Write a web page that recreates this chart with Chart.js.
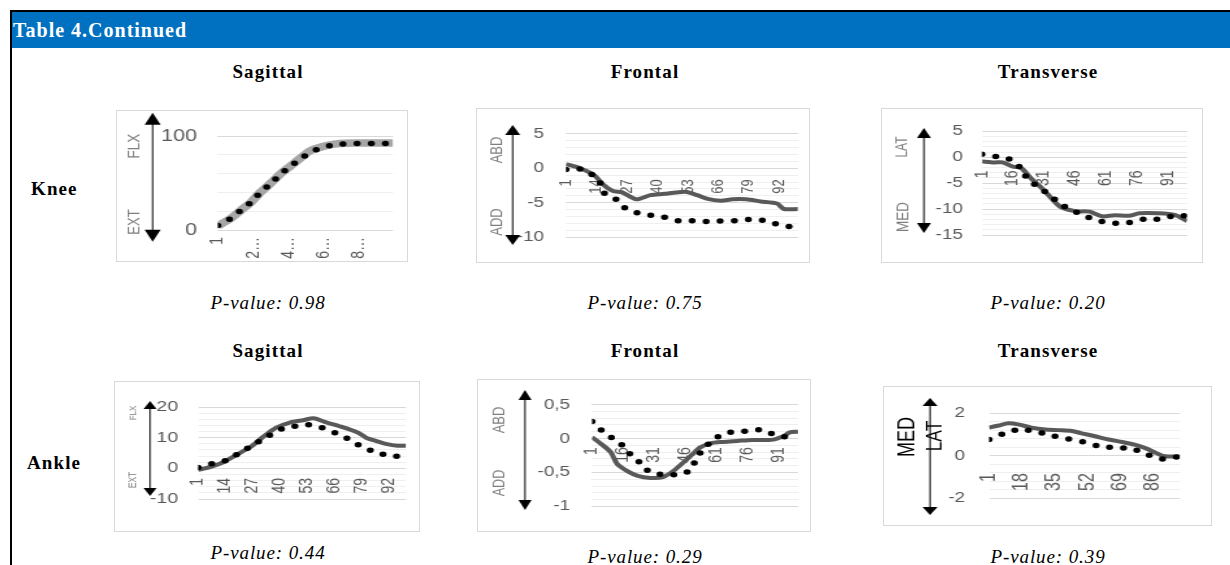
<!DOCTYPE html>
<html>
<head>
<meta charset="utf-8">
<script src="https://cdn.jsdelivr.net/npm/chart.js@4.4.1/dist/chart.umd.min.js"></script>
<style>
  body { margin: 0; width: 1230px; height: 565px; overflow: hidden; position: relative; background: #fff;
         font-family: 'Liberation Serif', 'Times New Roman', serif; }
  .rule-top { position: absolute; left: 10px; top: 10px; width: 1220px; height: 2px; background: #000; }
  .rule-left { position: absolute; left: 10px; top: 10px; width: 2px; height: 555px; background: #000; }
  .bar { position: absolute; left: 12px; top: 12px; width: 1218px; height: 36px; background: #0070c0; }
  .bar span { position: absolute; left: 1px; top: 0; line-height: 37px; color: #fff; font-weight: bold;
              font-size: 20px; letter-spacing: 1px; }
  .t { position: absolute; white-space: nowrap; line-height: 24px; height: 24px; color: #000; }
  .c { width: 240px; text-align: center; }
  .b { font-weight: bold; font-size: 19px; letter-spacing: 1.1px; }
  .i { font-style: italic; font-size: 19px; letter-spacing: 0.9px; }
  .box { position: absolute; }
  .box canvas { position: absolute; left: 0; top: 0; }
  .box::after { content: ''; position: absolute; left: 0; top: 0; right: 0; bottom: 0;
                border: 1.5px solid #d9d9d9; pointer-events: none; }
</style>
</head>
<body>
<div class="rule-top"></div>
<div class="rule-left"></div>
<div class="bar"><span>Table 4.Continued</span></div>

<div class="t c b" style="left:148px;top:60px">Sagittal</div>
<div class="t c b" style="left:525px;top:60px">Frontal</div>
<div class="t c b" style="left:928px;top:60px">Transverse</div>
<div class="t b" style="left:31px;top:177px">Knee</div>
<div class="t c i" style="left:148px;top:291px">P-value: 0.98</div>
<div class="t c i" style="left:525px;top:291px">P-value: 0.75</div>
<div class="t c i" style="left:928px;top:291px">P-value: 0.20</div>

<div class="t c b" style="left:148px;top:339px">Sagittal</div>
<div class="t c b" style="left:525px;top:339px">Frontal</div>
<div class="t c b" style="left:928px;top:339px">Transverse</div>
<div class="t b" style="left:27px;top:451px">Ankle</div>
<div class="t c i" style="left:148px;top:541px">P-value: 0.44</div>
<div class="t c i" style="left:525px;top:545px">P-value: 0.29</div>
<div class="t c i" style="left:928px;top:545px">P-value: 0.39</div>

<div class="box" id="b1"><canvas id="c1"></canvas></div>
<div class="box" id="b2"><canvas id="c2"></canvas></div>
<div class="box" id="b3"><canvas id="c3"></canvas></div>
<div class="box" id="b4"><canvas id="c4"></canvas></div>
<div class="box" id="b5"><canvas id="c5"></canvas></div>
<div class="box" id="b6"><canvas id="c6"></canvas></div>

<script>
// ---- Knee, sagittal ----
const kneeSagLineX = [1, 8, 14, 20, 25, 31, 36, 42, 48, 53, 58, 63, 70, 80, 90, 100];
const kneeSagLineY = [4.5, 12, 21, 30, 40, 50, 59, 68, 77, 84, 87.5, 90, 92, 92.5, 92.5, 92.5];
const kneeSagDotX = [1, 8, 14, 20, 25, 31, 36, 42, 48, 55, 62, 71, 79, 88, 97, 100];
const kneeSagDotY = [4.7, 12, 21, 30, 40, 49.4, 58.8, 67.6, 76.4, 84, 89, 91.5, 92, 92, 92, 92];
const kneeSagTicks = [1, 21, 41, 61, 81];
const kneeSagTickText = ['1', '2…', '4…', '6…', '8…'];
const kneeSagMajor = [0, 100];
const kneeSagMajorText = ['0', '100'];

// ---- Knee, frontal ----
const kneeFroLineX = [1, 7, 13, 17, 21, 25, 31, 37, 43, 48, 52, 57, 61, 67, 72, 78, 84, 91, 94, 100];
const kneeFroLineY = [0.6, 0, -1.0, -2.4, -3.3, -3.5, -4.5, -3.9, -3.7, -3.5, -3.4, -3.9, -4.4, -4.7, -4.5, -4.5, -4.8, -5.1, -5.9, -5.9];
const kneeFroDotX = [1, 7, 12, 15.5, 17, 22, 25.5, 31, 37, 43, 49, 55, 61, 68, 74, 80, 86, 92, 98, 100];
const kneeFroDotY = [-0.2, -0.1, -0.9, -2.1, -3.5, -4.4, -5.6, -6.4, -6.8, -7.1, -7.6, -7.6, -7.7, -7.6, -7.6, -7.4, -7.6, -8.2, -8.5, -8.6];
const kneeFroTicks = [1, 14, 27, 40, 53, 66, 79, 92];
const kneeFroTickText = ['1', '14', '27', '40', '53', '66', '79', '92'];
const kneeFroMajor = [5, 0, -5, -10];
const kneeFroMajorText = ['5', '0', '-5', '-10'];

// ---- Knee, transverse ----
const kneeTraLineX = [1, 7, 11, 16, 20, 25, 30, 35, 39, 46, 53, 59, 65, 72, 77, 86, 94, 100];
const kneeTraLineY = [-0.8, -1.0, -1.0, -1.8, -2.1, -4.2, -6.0, -8.1, -9.6, -10.4, -10.5, -11.4, -11.2, -11.3, -10.8, -10.8, -11.1, -12.3];
const kneeTraDotX = [1, 8, 14, 19, 22, 26, 31, 36, 40, 46, 51, 58, 64, 71, 77, 84, 90, 96, 100];
const kneeTraDotY = [0.6, 0.1, -0.3, -1.8, -3.6, -5.1, -6.5, -8.1, -9.3, -10.5, -11.4, -12.3, -12.7, -12.7, -12.0, -12.0, -11.7, -11.0, -11.5];
const kneeTraTicks = [1, 16, 31, 46, 61, 76, 91];
const kneeTraTickText = ['1', '16', '31', '46', '61', '76', '91'];
const kneeTraMajor = [5, 0, -5, -10, -15];
const kneeTraMajorText = ['5', '0', '-5', '-10', '-15'];

// ---- Ankle, sagittal ----
const ankSagLineX = [1, 7, 13, 19, 26, 32, 38, 45, 51, 56, 62, 69, 77, 81, 86, 91, 96, 100];
const ankSagLineY = [-0.5, 0.5, 2.0, 4.3, 7.0, 10.3, 13.2, 15.0, 15.7, 16.3, 15.0, 13.6, 11.7, 10.0, 8.9, 7.9, 7.4, 7.4];
const ankSagDotX = [1, 8, 14, 19, 24, 29, 34, 39, 45, 50, 57, 62, 68, 73, 78, 84, 89, 95, 100];
const ankSagDotY = [0.3, 1.6, 2.5, 4.3, 6.3, 8.4, 10.3, 12.5, 13.3, 14.3, 13.9, 12.7, 11.1, 9.4, 7.4, 5.6, 4.6, 4.0, 3.8];
const ankSagTicks = [1, 14, 27, 40, 53, 66, 79, 92];
const ankSagTickText = ['1', '14', '27', '40', '53', '66', '79', '92'];
const ankSagMajor = [20, 10, 0, -10];
const ankSagMajorText = ['20', '10', '0', '-10'];

// ---- Ankle, frontal ----
const ankFroLineX = [1, 5, 10, 13, 18, 23, 29, 35, 40, 45, 49, 53, 58, 64, 71, 78, 87, 93, 96, 100];
const ankFroLineY = [0.02, -0.07, -0.2, -0.37, -0.48, -0.55, -0.58, -0.57, -0.48, -0.35, -0.24, -0.13, -0.07, -0.05, -0.035, -0.02, -0.02, 0.035, 0.09, 0.1];
const ankFroDotX = [1, 6, 11, 16, 20, 25, 29, 35, 43, 48, 51, 54, 59, 64, 70, 77, 83, 89, 96, 100];
const ankFroDotY = [0.25, 0.11, 0.0, -0.11, -0.25, -0.38, -0.5, -0.53, -0.53, -0.47, -0.31, -0.17, -0.03, 0.07, 0.1, 0.11, 0.13, 0.05, 0.02, 0.02];
const ankFroTicks = [1, 16, 31, 46, 61, 76, 91];
const ankFroTickText = ['1', '16', '31', '46', '61', '76', '91'];
const ankFroMajor = [0.5, 0, -0.5, -1];
const ankFroMajorText = ['0,5', '0', '-0,5', '-1'];

// ---- Ankle, transverse ----
const ankTraLineX = [1, 6, 11, 16, 23, 30, 37, 44, 49, 56, 63, 70, 77, 82, 87, 91, 94, 100];
const ankTraLineY = [1.32, 1.42, 1.52, 1.47, 1.32, 1.23, 1.2, 1.16, 1.05, 0.91, 0.76, 0.64, 0.5, 0.35, 0.15, -0.01, -0.04, -0.04];
const ankTraDotX = [1, 9, 17, 25, 34, 42, 50, 58, 66, 75, 82, 90, 98, 100];
const ankTraDotY = [0.76, 1.05, 1.23, 1.13, 0.94, 0.79, 0.64, 0.44, 0.37, 0.32, 0.09, -0.16, -0.07, -0.07];
const ankTraTicks = [1, 18, 35, 52, 69, 86];
const ankTraTickText = ['1', '18', '35', '52', '69', '86'];
const ankTraMajor = [2, 0, -2];
const ankTraMajorText = ['2', '0', '-2'];

// the chart pictures in the document are stretched sideways
const SX = 1.3;

Chart.defaults.font.family = "'Liberation Sans', Arial, sans-serif";
Chart.defaults.color = '#595959';

// double headed arrow + rotated side labels, in page px
const sideArrow = {
  id: 'sideArrow',
  afterDraw(chart, args, o) {
    if (!o || !o.box) return;
    const ctx = chart.ctx;
    const X = v => (v - o.box[0]) / SX;
    const Y = v => v - o.box[1];
    const x = X(o.x), t = Y(o.top), b = Y(o.bottom);
    const hw = o.head[0] / SX / 2, hh = o.head[1];
    ctx.save();
    ctx.strokeStyle = '#000';
    ctx.fillStyle = '#000';
    ctx.lineWidth = 1;
    ctx.beginPath(); ctx.moveTo(x, t + hh - 1); ctx.lineTo(x, b - hh + 1); ctx.stroke();
    ctx.beginPath(); ctx.moveTo(x, t); ctx.lineTo(x - hw, t + hh); ctx.lineTo(x + hw, t + hh); ctx.closePath(); ctx.fill();
    ctx.beginPath(); ctx.moveTo(x, b); ctx.lineTo(x - hw, b - hh); ctx.lineTo(x + hw, b - hh); ctx.closePath(); ctx.fill();
    o.labels.forEach(l => {
      ctx.save();
      ctx.translate(X(l.x), Y(l.y));
      ctx.rotate(-Math.PI / 2);
      ctx.font = l.size + "px 'Liberation Sans', Arial, sans-serif";
      ctx.fillStyle = l.color || '#7f7f7f';
      ctx.textAlign = 'center';
      ctx.textBaseline = 'middle';
      ctx.fillText(l.text, 0, 0);
      ctx.restore();
    });
    ctx.restore();
  }
};

function makeChart(n, lay, d) {
  const [bx, by, bw, bh] = lay.box;
  const [pl, pr, pt, pb] = lay.plot;
  const wrap = document.getElementById('b' + n);
  wrap.style.left = bx + 'px'; wrap.style.top = by + 'px';
  wrap.style.width = bw + 'px'; wrap.style.height = bh + 'px';
  const cv = document.getElementById('c' + n);
  cv.width = Math.round(bw / SX);
  cv.height = bh;
  cv.style.width = bw + 'px';
  cv.style.height = bh + 'px';

  const axisY = pt + d.ymax / (d.ymax - d.ymin) * (pb - pt);
  const majorIdx = v => d.major.findIndex(m => Math.abs(m - v) < 1e-9);

  new Chart(cv, {
    type: 'line',
    data: {
      datasets: [
        {
          data: d.dotX.map((x, i) => ({ x: x, y: d.dotY[i] })),
          borderColor: '#000',
          borderWidth: 5.5,
          borderDash: [0, 10.8],
          borderCapStyle: 'round',
          pointRadius: 0,
          tension: 0.25
        },
        {
          data: d.lineX.map((x, i) => ({ x: x, y: d.lineY[i] })),
          borderColor: d.lineColor,
          borderWidth: d.lineWidth,
          borderJoinStyle: 'round',
          pointRadius: 0,
          tension: 0.25
        }
      ]
    },
    options: {
      responsive: false,
      animation: false,
      events: [],
      layout: { padding: { left: 0, top: pt - by, right: (bx + bw - pr) / SX, bottom: by + bh - pb } },
      plugins: {
        legend: { display: false },
        tooltip: { enabled: false },
        sideArrow: Object.assign({ box: lay.box }, lay.arrow)
      },
      scales: {
        x: {
          type: 'linear', min: 1, max: 100,
          position: { y: 0 },
          grid: { display: false, drawTicks: false },
          border: { display: false },
          afterBuildTicks: s => { s.ticks = d.ticks.map(v => ({ value: v })); },
          afterFit: s => { s.paddingLeft = 0; s.paddingRight = 0; },
          ticks: {
            autoSkip: false, minRotation: 90, maxRotation: 90,
            padding: lay.xLabTop - axisY,
            font: { size: d.xFont }, color: '#595959',
            callback: (v, i) => d.tickText[i]
          }
        },
        y: {
          type: 'linear', min: d.ymin, max: d.ymax,
          afterFit: s => { s.width = (pl - bx) / SX; },
          grid: { drawTicks: false, color: c => majorIdx(c.tick.value) >= 0 ? '#d9d9d9' : '#efefef' },
          border: { display: false },
          ticks: {
            autoSkip: false,
            stepSize: d.minor,
            padding: (pl - lay.labRight) / SX,
            font: { size: d.yFont }, color: '#595959',
            callback: v => { const k = majorIdx(v); return k < 0 ? '' : d.majorText[k]; }
          }
        }
      }
    },
    plugins: [sideArrow]
  });
}

makeChart(1,
  { box: [116, 110, 292, 152], plot: [218, 393, 124, 230], labRight: 197, xLabTop: 237,
    arrow: { x: 152.7, top: 112.7, bottom: 241.7, head: [16, 12],
             labels: [{ text: 'FLX', x: 135, y: 146, size: 13.5 }, { text: 'EXT', x: 135, y: 222, size: 13 }] } },
  { lineX: kneeSagLineX, lineY: kneeSagLineY, dotX: kneeSagDotX, dotY: kneeSagDotY,
    ticks: kneeSagTicks, tickText: kneeSagTickText, major: kneeSagMajor, majorText: kneeSagMajorText,
    ymin: 0, ymax: 100, minor: 20, xFont: 14, yFont: 16.5, lineColor: '#a6a6a6', lineWidth: 7.5 });

makeChart(2,
  { box: [476, 108, 334, 155], plot: [566, 798, 130, 253], labRight: 544, xLabTop: 182,
    arrow: { x: 512.7, top: 125, bottom: 245, head: [15, 10],
             labels: [{ text: 'ABD', x: 497, y: 150, size: 13 }, { text: 'ADD', x: 497, y: 222, size: 13 }] } },
  { lineX: kneeFroLineX, lineY: kneeFroLineY, dotX: kneeFroDotX, dotY: kneeFroDotY,
    ticks: kneeFroTicks, tickText: kneeFroTickText, major: kneeFroMajor, majorText: kneeFroMajorText,
    ymin: -10, ymax: 5, minor: 1, xFont: 13, yFont: 14.5, lineColor: '#595959', lineWidth: 4 });

makeChart(3,
  { box: [881, 108, 322, 155], plot: [982, 1187, 124, 235], labRight: 963, xLabTop: 165,
    arrow: { x: 924, top: 128, bottom: 233, head: [14, 10],
             labels: [{ text: 'LAT', x: 903, y: 147, size: 12 }, { text: 'MED', x: 903, y: 217, size: 13.5 }] } },
  { lineX: kneeTraLineX, lineY: kneeTraLineY, dotX: kneeTraDotX, dotY: kneeTraDotY,
    ticks: kneeTraTicks, tickText: kneeTraTickText, major: kneeTraMajor, majorText: kneeTraMajorText,
    ymin: -15, ymax: 5, minor: 1, xFont: 14, yFont: 14.5, lineColor: '#595959', lineWidth: 4 });

makeChart(4,
  { box: [114, 381, 306, 151], plot: [198, 406, 407, 499], labRight: 178, xLabTop: 478,
    arrow: { x: 150, top: 401, bottom: 496, head: [13, 8],
             labels: [{ text: 'FLX', x: 133, y: 413, size: 8 }, { text: 'EXT', x: 133, y: 480, size: 8.5 }] } },
  { lineX: ankSagLineX, lineY: ankSagLineY, dotX: ankSagDotX, dotY: ankSagDotY,
    ticks: ankSagTicks, tickText: ankSagTickText, major: ankSagMajor, majorText: ankSagMajorText,
    ymin: -10, ymax: 20, minor: 2, xFont: 14, yFont: 15, lineColor: '#595959', lineWidth: 4 });

makeChart(5,
  { box: [477, 379, 334, 153], plot: [592, 798, 403, 518], labRight: 570, xLabTop: 450,
    arrow: { x: 525, top: 390, bottom: 510, head: [13, 10],
             labels: [{ text: 'ABD', x: 500, y: 420, size: 13 }, { text: 'ADD', x: 500, y: 483, size: 12.6 }] } },
  { lineX: ankFroLineX, lineY: ankFroLineY, dotX: ankFroDotX, dotY: ankFroDotY,
    ticks: ankFroTicks, tickText: ankFroTickText, major: ankFroMajor, majorText: ankFroMajorText,
    ymin: -1, ymax: 0.5, minor: 0.1, xFont: 14, yFont: 14.5, lineColor: '#595959', lineWidth: 4 });

makeChart(6,
  { box: [883, 386, 329, 140], plot: [989, 1180, 407, 498], labRight: 965, xLabTop: 470,
    arrow: { x: 930, top: 398, bottom: 515, head: [15, 8],
             labels: [{ text: 'MED', x: 908, y: 437, size: 18, color: '#000' },
                      { text: 'LAT', x: 935, y: 436, size: 17.4, color: '#000' }] } },
  { lineX: ankTraLineX, lineY: ankTraLineY, dotX: ankTraDotX, dotY: ankTraDotY,
    ticks: ankTraTicks, tickText: ankTraTickText, major: ankTraMajor, majorText: ankTraMajorText,
    ymin: -2, ymax: 2, minor: 0.4, xFont: 16, yFont: 14.5, lineColor: '#595959', lineWidth: 4 });
</script>
</body>
</html>
